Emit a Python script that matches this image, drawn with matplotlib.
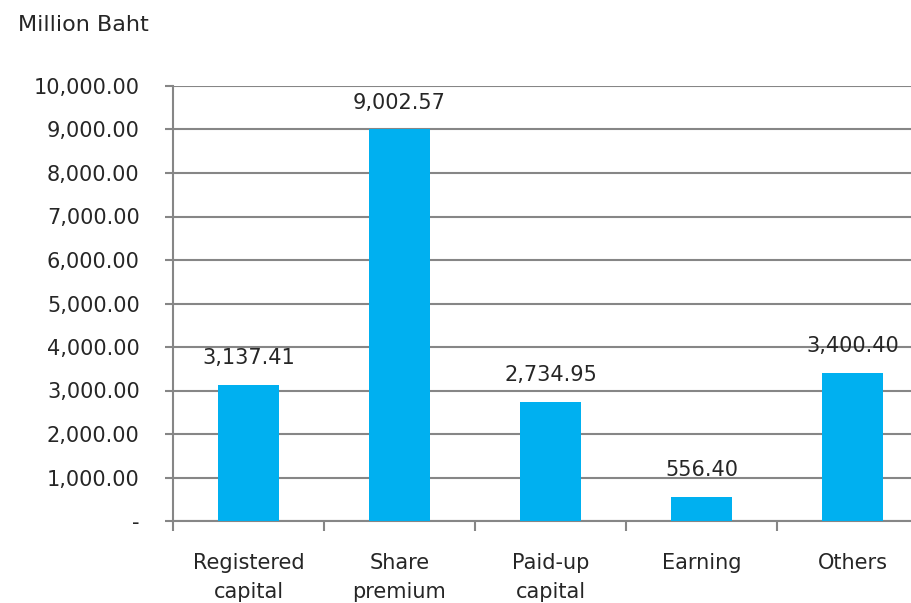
import numpy as np
import matplotlib.pyplot as plt
from matplotlib.ticker import FixedLocator, FuncFormatter

# Data
categories = ["Registered\ncapital", "Share\npremium", "Paid-up\ncapital", "Earning", "Others"]
values = [3137.41, 9002.57, 2734.95, 556.40, 3400.40]
y_ticks = np.arange(0, 10001, 1000)

bar_color = "#00B0F0"
grid_color = "#868686"
text_color = "#262626"

plt.rcParams['font.family'] = ['DejaVu Sans']

fig = plt.figure(figsize=(9.12, 6.03), dpi=100)
# axes runs past the right edge, like the cropped original
ax = fig.add_axes([173 / 912, 82 / 603, 755 / 912, 435 / 603])

x = np.arange(len(categories))
ax.bar(x, values, width=0.4, color=bar_color, zorder=3)

for xi, v in zip(x, values):
    ax.annotate(f"{v:,.2f}", (xi, v), xytext=(0, 12), textcoords="offset points",
                ha="center", va="bottom", fontsize=15, color=text_color)

ax.set_xlim(-0.5, len(categories) - 0.5)
ax.set_ylim(0, 10000)

ax.yaxis.set_major_locator(FixedLocator(y_ticks))
ax.yaxis.set_major_formatter(FuncFormatter(lambda v, p: "-" if v == 0 else f"{v:,.2f}"))
ax.grid(axis="y", color=grid_color, linewidth=1.5, zorder=0)

ax.set_xticks(x)
ax.set_xticklabels(categories, linespacing=1.55)
ax.set_xticks(np.arange(-0.5, len(categories)), minor=True)
ax.tick_params(axis="x", which="major", length=0, pad=23, labelsize=15, labelcolor=text_color)
ax.tick_params(axis="x", which="minor", length=7, width=1.5, color=grid_color, direction="out")
ax.tick_params(axis="y", length=6, width=1.5, color=grid_color, pad=18,
               labelsize=15, labelcolor=text_color)

for s in ["top", "right"]:
    ax.spines[s].set_visible(False)
for s in ["left", "bottom"]:
    ax.spines[s].set_color(grid_color)
    ax.spines[s].set_linewidth(1.5)

fig.text(18 / 912, 1 - 25 / 603, "Million Baht", fontsize=16, color=text_color,
         ha="left", va="center")

fig.savefig("out.png", dpi=100)
